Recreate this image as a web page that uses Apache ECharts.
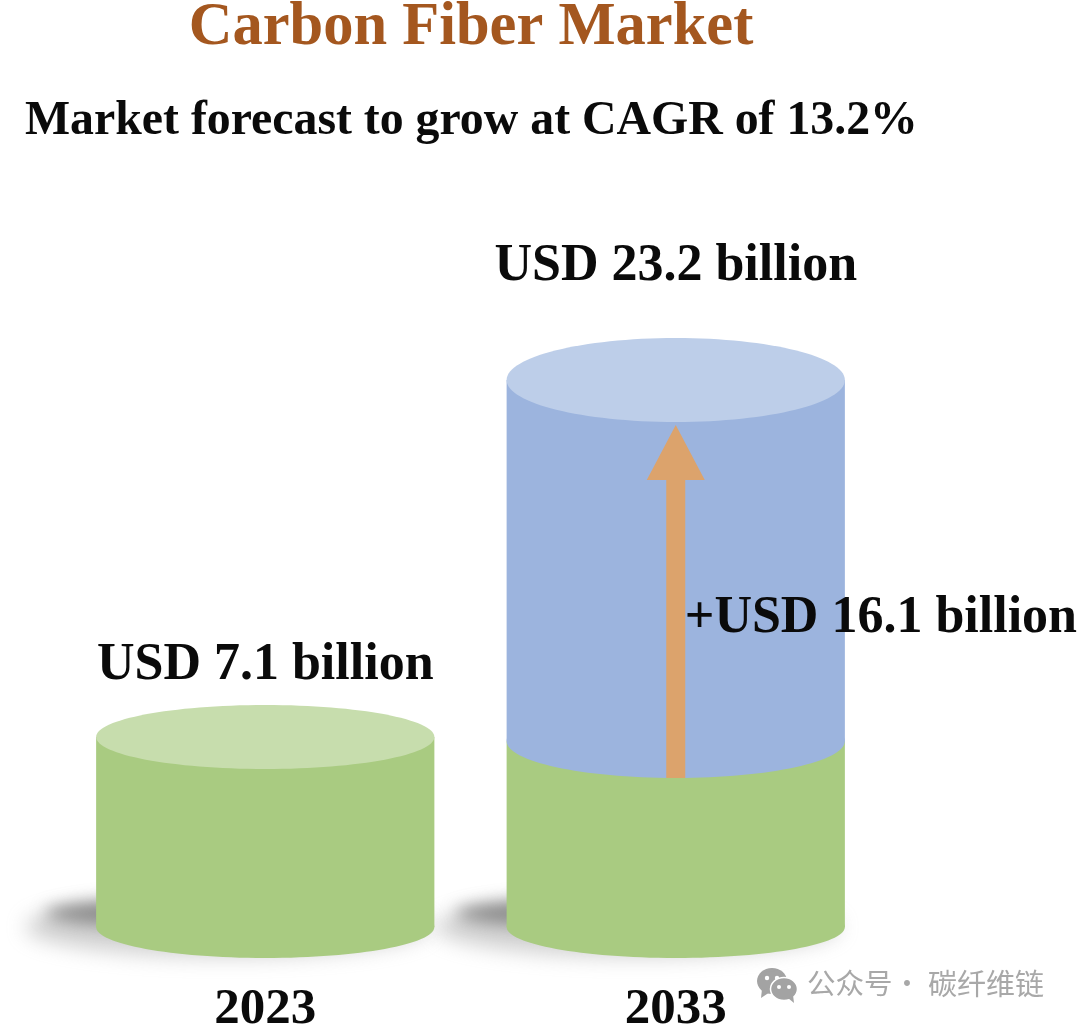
<!DOCTYPE html>
<html>
<head>
<meta charset="utf-8">
<style>html,body{margin:0;padding:0;background:#fff}#c{width:1080px;height:1027px}</style>
<script src="https://cdn.jsdelivr.net/npm/echarts@6/dist/echarts.min.js"></script>
</head>
<body>
<div id="c"></div>
<script>
var years = ['2023', '2033'];
var baseMarket = [7.1, 7.1];
var addedMarket = [0, 16.1];
var totalLabels = ['USD 7.1 billion', 'USD 23.2 billion'];
var addedLabel = '+USD 16.1 billion';
var titleText = 'Carbon Fiber Market';
var subtitleText = 'Market forecast to grow at CAGR of 13.2%';
var AXIS_MIN = -1.2, AXIS_MAX = 25;
var SERIF = '"Liberation Serif","Times New Roman",serif';
var GREEN = '#A9CB81', GREEN_TOP = '#C7DDAD', BLUE = '#9CB4DE', BLUE_TOP = '#BDCEE9', ARROW = '#DCA36C';
var LABEL_FONT = 'bold 52px ' + SERIF;

var chart = echarts.init(document.getElementById('c'), null, {renderer: 'canvas'});

function halfW(api) { return api.size([1, 0])[0] * 0.412; }

function softEllipse(cx, cy, rx, ry, color, blur) {
  var off = 3000;
  return {
    type: 'ellipse', silent: true,
    shape: {cx: cx - off, cy: cy, rx: rx, ry: ry},
    style: {fill: '#000', shadowBlur: blur, shadowColor: color, shadowOffsetX: off, shadowOffsetY: 0}
  };
}

function renderShadow(params, api) {
  var p = api.coord([api.value(0), AXIS_MIN]);
  return {type: 'group', children: [
    softEllipse(p[0] - 38, p[1] + 0, 202, 30, 'rgba(190,190,190,0.7)', 20),
    softEllipse(p[0] - 85, p[1] - 14, 135, 14, 'rgba(120,120,120,0.8)', 16)
  ]};
}

function renderGreen(params, api) {
  var i = api.value(0), top = api.coord([i, api.value(1)]), base = api.coord([i, AXIS_MIN]);
  var rx = halfW(api), hasBlue = addedMarket[i] > 0;
  var children = [
    {type: 'ellipse', shape: {cx: top[0], cy: base[1], rx: rx, ry: 31}, style: {fill: GREEN}},
    {type: 'rect', shape: {x: top[0] - rx, y: top[1], width: rx * 2, height: base[1] - top[1]}, style: {fill: GREEN}}
  ];
  if (!hasBlue) {
    var ty = top[1] - 4;
    children[1].shape.y = ty; children[1].shape.height = base[1] - ty;
    children.push({type: 'ellipse', shape: {cx: top[0], cy: ty, rx: rx, ry: 32}, style: {fill: GREEN_TOP}});
    children.push({type: 'text', style: {x: top[0], y: ty - 71, text: totalLabels[i], align: 'center', verticalAlign: 'middle',
      font: LABEL_FONT, fill: '#0a0a0a'}});
  }
  return {type: 'group', children: children};
}

function renderBlue(params, api) {
  var i = api.value(0);
  if (!api.value(2)) return null;
  var low = api.coord([i, api.value(1)]), high = api.coord([i, api.value(1) + api.value(2)]);
  var rx = halfW(api), cx = low[0];
  return {type: 'group', children: [
    {type: 'ellipse', shape: {cx: cx, cy: low[1], rx: rx, ry: 37}, style: {fill: BLUE}},
    {type: 'rect', shape: {x: cx - rx, y: high[1], width: rx * 2, height: low[1] - high[1]}, style: {fill: BLUE}},
    {type: 'ellipse', shape: {cx: cx, cy: high[1], rx: rx, ry: 42}, style: {fill: BLUE_TOP}},
    {type: 'polygon', shape: {points: [
      [cx - 9.5, low[1] + 37], [cx - 9.5, high[1] + 100], [cx - 29, high[1] + 100], [cx, high[1] + 45],
      [cx + 29, high[1] + 100], [cx + 9.5, high[1] + 100], [cx + 9.5, low[1] + 37]
    ]}, style: {fill: ARROW}},
    {type: 'text', style: {x: cx, y: high[1] - 113, text: totalLabels[i], align: 'center', verticalAlign: 'middle',
      font: LABEL_FONT, fill: '#0a0a0a'}},
    {type: 'text', style: {x: cx + 9, y: low[1] - 122, text: addedLabel, align: 'left', verticalAlign: 'middle',
      font: LABEL_FONT, fill: '#0a0a0a'}}
  ]};
}

var idx = years.map(function (y, i) { return i; });
chart.setOption({
  animation: false,
  backgroundColor: '#ffffff',
  title: [
    {text: titleText, left: 471, top: -2, padding: 0, textAlign: 'center',
     textStyle: {fontFamily: SERIF, fontWeight: 'bold', fontSize: 60.5, color: '#A4571F'}},
    {text: subtitleText, left: 25, top: 98, padding: 0, textStyle: {fontFamily: SERIF, fontWeight: 'bold', fontSize: 47.8, color: '#0a0a0a'}}
  ],
  grid: {left: 60, width: 821, top: 339.6, height: 587.4, outerBoundsMode: 'none'},
  xAxis: {type: 'category', data: years, axisLine: {show: false}, axisTick: {show: false},
    axisLabel: {margin: 57, fontFamily: SERIF, fontWeight: 'bold', fontSize: 51, color: '#0a0a0a'}},
  yAxis: {type: 'value', min: AXIS_MIN, max: AXIS_MAX, show: false, splitLine: {show: false}},
  series: [
    {type: 'custom', name: 'shadow', renderItem: renderShadow, data: idx.map(function (i) { return [i]; }), z: 1, silent: true},
    {type: 'custom', name: 'Base market', renderItem: renderGreen, data: idx.map(function (i) { return [i, baseMarket[i]]; }), z: 2, silent: true},
    {type: 'custom', name: 'Added market', renderItem: renderBlue, data: idx.map(function (i) { return [i, baseMarket[i], addedMarket[i]]; }), z: 3, silent: true}
  ],
  graphic: [
    {type: 'group', left: 757, top: 968, silent: true, children: [
      {type: 'ellipse', shape: {cx: 15, cy: 13, rx: 15, ry: 13}, style: {fill: '#a3a3a3'}},
      {type: 'polygon', shape: {points: [[5, 21], [4, 30], [13, 24]]}, style: {fill: '#a3a3a3'}},
      {type: 'circle', shape: {cx: 10, cy: 10, r: 2.2}, style: {fill: '#fff'}},
      {type: 'circle', shape: {cx: 20, cy: 10, r: 2.2}, style: {fill: '#fff'}},
      {type: 'ellipse', shape: {cx: 27, cy: 21, rx: 13.5, ry: 11.5}, style: {fill: '#a3a3a3', stroke: '#fff', lineWidth: 1.5}},
      {type: 'polygon', shape: {points: [[31, 30], [37, 35], [36, 27]]}, style: {fill: '#a3a3a3'}},
      {type: 'circle', shape: {cx: 22, cy: 19, r: 2}, style: {fill: '#fff'}},
      {type: 'circle', shape: {cx: 32, cy: 19, r: 2}, style: {fill: '#fff'}}
    ]},
    {type: 'text', left: 807, top: 969, silent: true, style: {text: '公众号', font: '28.5px "Noto Sans CJK SC"', fill: '#a8a8a8'}},
    {type: 'text', left: 893, top: 969, silent: true, style: {text: '·', font: '28px "Noto Sans CJK SC"', fill: '#a8a8a8'}},
    {type: 'text', left: 928, top: 969, silent: true, style: {text: '碳纤维链', font: '29px "Noto Sans CJK SC"', fill: '#a8a8a8'}}
  ]
});
</script>
</body>
</html>
